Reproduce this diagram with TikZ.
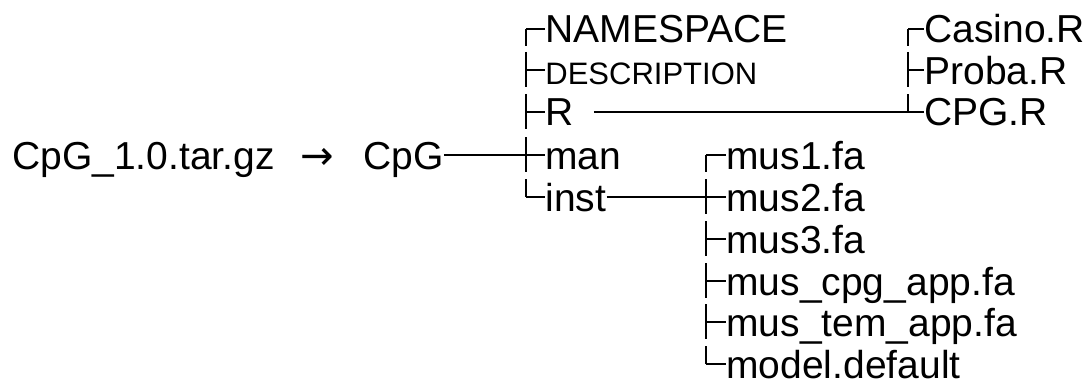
\documentclass[tikz,border=0pt]{standalone}
\usepackage{fontspec}
\setmainfont{Liberation Sans}
\newfontfamily\arrowfont{DejaVu Sans}
\usepackage{tikz}
\usetikzlibrary{calc}

\tikzset{
  lbl/.style={anchor=west, inner sep=0pt, text height=14pt, text depth=0pt,
    font=\fontsize{19.5}{23}\selectfont},
  lblsmall/.style={lbl, font=\fontsize{15.5}{18}\selectfont},
  tree/.style={line width=0.7pt, black}
}

\begin{document}
\begin{tikzpicture}[x=0.5pt, y=-0.5pt]
    \useasboundingbox (0,0) rectangle (1085,385);

    % Archiv und entpackter Ordner
    \node (tar) at (12,155) [lbl] {CpG\_1.0.tar.gz};
    \node (arr) at (317,169) [anchor=base, inner sep=0pt, font=\arrowfont\fontsize{20}{24}\selectfont] {→};
    \node (cpg) at (363,155) [lbl] {CpG};

    % Inhalt von CpG
    \node (ns)   at (545,29)  [lbl] {NAMESPACE};
    \node (desc) at (545,70)  [lblsmall] {DESCRIPTION};
    \node (rr)   at (545,112) [lbl] {R};
    \node (man)  at (545,155) [lbl] {man};
    \node (inst) at (545,197) [lbl] {inst};

    % Inhalt von R
    \node (casino) at (924,29)  [lbl] {Casino.R};
    \node (proba)  at (924,70)  [lbl] {Proba.R};
    \node (cpgr)   at (924,112) [lbl] {CPG.R};

    % Inhalt von inst
    \node (mus1)   at (726,155) [lbl] {mus1.fa};
    \node (mus2)   at (726,197) [lbl] {mus2.fa};
    \node (mus3)   at (726,239) [lbl] {mus3.fa};
    \node (cpgapp) at (726,281) [lbl] {mus\_cpg\_app.fa};
    \node (temapp) at (726,322) [lbl] {mus\_tem\_app.fa};
    \node (model)  at (726,364) [lbl] {model.default};

    % Staemme der drei Baeume
    \coordinate (t1) at (526,0);
    \coordinate (t2) at (908,0);
    \coordinate (t3) at (706,0);

    % Baum unter CpG
    \draw[tree] (cpg.east) -- (man.west);
    \foreach \c in {ns,desc,rr,inst}
        \draw[tree] (\c.west -| t1) -- (\c.west);
    \draw[tree] (ns.west -| t1) -- ++(0,17);
    \foreach \c in {desc,rr,man}
        \draw[tree] ($(\c.west -| t1)+(0,-18)$) -- ++(0,35);
    \draw[tree] (inst.west -| t1) -- ++(0,-18);

    % Baum unter R
    \draw[tree, shorten <=10pt] (rr.east) -- (cpgr.west);
    \foreach \c in {casino,proba}
        \draw[tree] (\c.west -| t2) -- (\c.west);
    \draw[tree] (casino.west -| t2) -- ++(0,17);
    \draw[tree] ($(proba.west -| t2)+(0,-18)$) -- ++(0,35);
    \draw[tree] (cpgr.west -| t2) -- ++(0,-18);

    % Baum unter inst
    \draw[tree] (inst.east) -- (mus2.west);
    \foreach \c in {mus1,mus3,cpgapp,temapp,model}
        \draw[tree] (\c.west -| t3) -- (\c.west);
    \draw[tree] (mus1.west -| t3) -- ++(0,17);
    \foreach \c in {mus2,mus3,cpgapp,temapp}
        \draw[tree] ($(\c.west -| t3)+(0,-18)$) -- ++(0,35);
    \draw[tree] (model.west -| t3) -- ++(0,-18);
\end{tikzpicture}
\end{document}
